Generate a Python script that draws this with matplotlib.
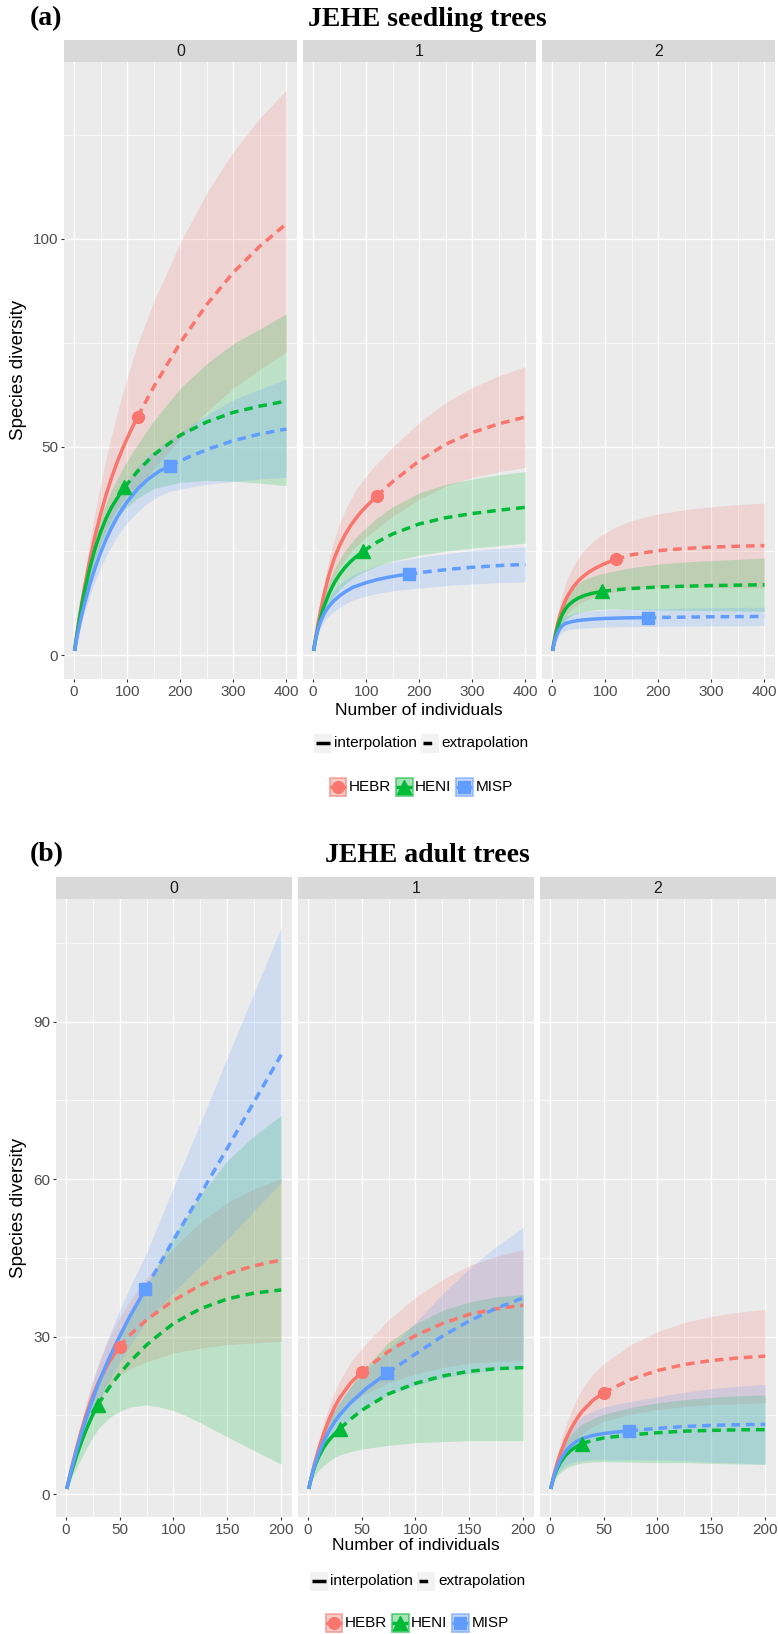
#!/usr/bin/env python3
"""Rarefaction / extrapolation curves for JEHE seedling and adult trees,
   faceted by diversity order (0, 1, 2)."""
import numpy as np
import matplotlib

matplotlib.use("Agg")
import matplotlib.pyplot as plt
from matplotlib.patches import Rectangle
from matplotlib.lines import Line2D
from matplotlib.ticker import MultipleLocator

plt.rcParams["font.family"] = ["Liberation Sans", "DejaVu Sans"]

W, H = 778, 1634

SPECIES = ["HEBR", "HENI", "MISP"]
COLORS = ["#F8766D", "#00BA38", "#619CFF"]
MARKERS = ["o", "^", "s"]
ORDERS = ["0", "1", "2"]
METHODS = ["interpolation", "extrapolation"]
TITLES = ["JEHE seedling trees", "JEHE adult trees"]
TAGS = ["(a)", "(b)"]
XLABEL = "Number of individuals"
YLABEL = "Species diversity"

# observed sample sizes (reference samples) for HEBR, HENI, MISP
A_NOBS = [120, 95, 180]
B_NOBS = [50, 30, 74]

# ---- (a) seedling trees, order 0
A0_HEBR_X = [1, 5, 10, 15, 20, 30, 40, 50, 60, 70, 80, 90, 100, 110, 120,
             150, 200, 250, 300, 350, 400]
A0_HEBR_Y = [1, 4.8, 9.05, 12.95, 16.55, 23.05, 28.85, 33.85, 38.35, 42.35,
             45.95, 49.15, 52.05, 54.75, 57.3, 64.4, 75, 84.2, 91.9, 98.2, 103.6]
A0_HEBR_LO = [1, 4.1, 7.6, 10.8, 13.7, 18.7, 23.3, 26.9, 30.1, 32.8, 34.9,
              36.7, 38.1, 39.4, 40.5, 44.7, 52, 58.5, 64.1, 68.6, 72.8]
A0_HEBR_HI = [1, 5.5, 10.6, 15.3, 19.6, 27.6, 34.7, 41.1, 47, 52.4, 57.5,
              62.2, 66.6, 70.8, 74.8, 84.9, 99, 111, 120.9, 129, 135.7]

A0_HENI_X = [1, 5, 10, 15, 20, 30, 40, 50, 60, 70, 80, 95,
             120, 150, 200, 250, 300, 350, 400]
A0_HENI_Y = [1, 4.6, 8.6, 12.2, 15.45, 21.05, 25.75, 29.55, 32.75, 35.35,
             37.45, 40.3, 44.2, 48.1, 52.8, 56, 58.3, 59.8, 61]
A0_HENI_LO = [1, 4.2, 7.8, 11.1, 14.05, 19.05, 22.95, 26.45, 29.15, 31.25,
              32.85, 35, 37.7, 40, 41.5, 42, 41.8, 41.3, 40.7]
A0_HENI_HI = [1, 5, 9.4, 13.3, 16.85, 23.05, 28.35, 32.65, 36.35, 39.45,
              42.05, 45.6, 50.7, 56.2, 64.1, 70, 74.8, 78.3, 82]

A0_MISP_X = [1, 5, 10, 15, 20, 30, 40, 50, 60, 70, 80, 90, 100, 120, 140,
             160, 180, 220, 260, 300, 350, 400]
A0_MISP_Y = [1, 3.88, 7.08, 9.93, 12.53, 17.13, 21.13, 24.63, 27.73, 30.43,
             32.83, 34.93, 36.83, 39.93, 42.33, 44.13, 45.43, 47.8, 49.8,
             51.5, 53.1, 54.3]
A0_MISP_LO = [1, 3.4, 6.1, 8.4, 10.5, 14.5, 17.9, 21, 23.7, 26.1, 28.3, 30.1,
              31.8, 34.5, 36.7, 38.2, 39.3, 40.4, 41.2, 41.7, 42.3, 42.7]
A0_MISP_HI = [1, 4.4, 8.1, 11.4, 14.5, 19.7, 24.3, 28.2, 31.7, 34.7, 37.3,
              39.7, 41.8, 45.3, 47.9, 50, 51.5, 55.2, 58.4, 61.3, 63.9, 66.3]

# ---- (a) order 1
A1_HEBR_X = [1, 3, 5, 8, 10, 15, 20, 30, 40, 50, 60, 70, 80, 90, 100, 120,
             150, 200, 250, 300, 350, 400]
A1_HEBR_Y = [1, 2.7, 4.3, 6.55, 7.95, 11.25, 14.25, 19.25, 23.25, 26.35,
             28.85, 30.95, 32.75, 34.3, 35.7, 38.2, 41.65, 46.65, 50.65,
             53.45, 55.55, 57.2]
A1_HEBR_LO = [1, 2.3, 3.5, 5.35, 6.45, 9.05, 11.45, 15.45, 18.65, 21.05,
              22.95, 24.65, 26.05, 27.3, 28.4, 30.4, 33.35, 37.45, 40.65,
              42.65, 44.05, 45.1]
A1_HEBR_HI = [1, 3.1, 5.1, 7.75, 9.45, 13.45, 17.05, 23.05, 27.85, 31.65,
              34.75, 37.25, 39.45, 41.3, 43, 46, 49.95, 55.85, 60.65, 64.25,
              67.05, 69.3]

A1_HENI_X = [1, 3, 5, 8, 10, 15, 20, 30, 40, 50, 60, 70, 80, 95,
             120, 150, 200, 250, 300, 350, 400]
A1_HENI_Y = [1, 2.5, 3.86, 5.72, 6.88, 9.38, 11.48, 14.78, 17.38, 19.38,
             21.03, 22.38, 23.53, 25, 27.1, 29.1, 31.5, 33, 34, 34.8, 35.5]
A1_HENI_LO = [1, 2.2, 3.26, 4.82, 5.88, 7.88, 9.48, 11.98, 14.18, 15.78,
              17.03, 18.08, 18.93, 20, 21.3, 22.6, 24, 25, 25.7, 26.3, 26.9]
A1_HENI_HI = [1, 2.8, 4.46, 6.62, 7.88, 10.88, 13.48, 17.58, 20.58, 22.98,
              25.03, 26.68, 28.13, 30, 32.9, 35.6, 39, 41, 42.3, 43.3, 44.1]

A1_MISP_X = [1, 2, 3, 5, 7, 10, 15, 20, 25, 30, 40, 50, 60, 75, 100, 120,
             140, 160, 180, 220, 260, 300, 350, 400]
A1_MISP_Y = [1, 1.8, 2.55, 3.91, 5.11, 6.55, 8.35, 9.75, 10.85, 11.75, 13.15,
             14.25, 15.15, 16.28, 17.4, 18.1, 18.66, 19.1, 19.46, 20.1, 20.65,
             21.1, 21.5, 21.8]
A1_MISP_LO = [1, 1.6, 2.2, 3.31, 4.26, 5.45, 6.85, 7.95, 8.75, 9.45, 10.55,
              11.45, 12.25, 13.28, 14.2, 14.8, 15.26, 15.6, 15.86, 16.35,
              16.8, 17.1, 17.4, 17.6]
A1_MISP_HI = [1, 2, 2.9, 4.51, 5.96, 7.65, 9.85, 11.55, 12.95, 14.05, 15.75,
              17.05, 18.05, 19.28, 20.6, 21.4, 22.06, 22.6, 23.06, 23.85,
              24.5, 25.1, 25.6, 26]

# ---- (a) order 2
A2_HEBR_X = [1, 2, 3, 5, 7, 10, 15, 20, 25, 30, 40, 50, 60, 70, 80, 90, 100,
             120, 150, 200, 250, 300, 350, 400]
A2_HEBR_Y = [1, 1.85, 2.65, 4.15, 5.55, 7.29, 9.64, 11.54, 13.09, 14.39,
             16.39, 17.89, 19.04, 19.99, 20.77, 21.43, 22.01, 23.01, 24.1,
             25.1, 25.6, 25.95, 26.15, 26.3]
A2_HEBR_LO = [1, 1.55, 2.05, 3.15, 4.15, 5.29, 6.84, 8.14, 9.19, 10.09,
              11.39, 12.29, 12.94, 13.49, 13.97, 14.33, 14.71, 15.21, 15.9,
              16.3, 16.3, 16.25, 16.15, 16.1]
A2_HEBR_HI = [1, 2.15, 3.25, 5.15, 6.95, 9.29, 12.44, 14.94, 16.99, 18.69,
              21.39, 23.49, 25.14, 26.49, 27.57, 28.53, 29.31, 30.81, 32.3,
              33.9, 34.9, 35.65, 36.15, 36.5]

A2_HENI_X = [1, 2, 3, 5, 7, 10, 15, 20, 25, 30, 40, 50, 60, 70, 80, 95,
             120, 150, 200, 250, 300, 350, 400]
A2_HENI_Y = [1, 1.8, 2.52, 3.82, 4.94, 6.44, 8.44, 9.94, 11.04, 11.89, 12.99,
             13.74, 14.26, 14.66, 14.96, 15.29, 15.7, 16, 16.35, 16.55, 16.7,
             16.8, 16.9]
A2_HENI_LO = [1, 1.6, 2.12, 3.12, 3.94, 5.04, 6.44, 7.44, 8.24, 8.89, 9.69,
              10.14, 10.46, 10.66, 10.86, 10.99, 11.1, 11, 10.85, 10.75, 10.7,
              10.6, 10.5]
A2_HENI_HI = [1, 2, 2.92, 4.52, 5.94, 7.84, 10.44, 12.44, 13.84, 14.89,
              16.29, 17.34, 18.06, 18.66, 19.06, 19.59, 20.3, 21, 21.85,
              22.35, 22.7, 23, 23.3]

A2_MISP_X = [1, 2, 3, 4, 6, 8, 10, 15, 20, 25, 30, 40, 50, 60, 80, 100, 140,
             180, 250, 300, 350, 400]
A2_MISP_Y = [1, 1.65, 2.25, 2.8, 3.76, 4.56, 5.22, 6.42, 7.17, 7.57, 7.82,
             8.12, 8.32, 8.47, 8.67, 8.81, 8.95, 9.01, 9.12, 9.2, 9.25, 9.3]
A2_MISP_LO = [1, 1.4, 1.8, 2.2, 2.96, 3.56, 4.02, 4.97, 5.57, 5.87, 6.07,
              6.27, 6.42, 6.47, 6.67, 6.76, 6.85, 6.91, 6.97, 7, 7.05, 7.1]
A2_MISP_HI = [1, 1.9, 2.7, 3.4, 4.56, 5.56, 6.42, 7.87, 8.77, 9.27, 9.57,
              9.97, 10.22, 10.47, 10.67, 10.86, 11.05, 11.11, 11.27, 11.4,
              11.45, 11.5]

# ---- (b) adult trees, order 0
B0_HEBR_X = [1, 5, 10, 15, 20, 25, 30, 40, 50,
             60, 75, 100, 125, 150, 175, 200]
B0_HEBR_Y = [1, 4.6, 8.7, 12.4, 15.7, 18.6, 21.1, 25.1, 28.1,
             30.4, 33.2, 36.9, 39.8, 42, 43.5, 44.6]
B0_HEBR_LO = [1, 4, 7.4, 10.5, 13.2, 15.6, 17.6, 20.6, 22.6,
              23.9, 25.2, 26.9, 27.8, 28.5, 28.8, 29.1]
B0_HEBR_HI = [1, 5.2, 10, 14.3, 18.2, 21.6, 24.6, 29.6, 33.6,
              36.9, 41.2, 46.9, 51.8, 55.5, 58.2, 60.1]

B0_HENI_X = [1, 5, 10, 15, 20, 25, 30,
             40, 50, 60, 75, 85, 100, 110, 125, 150, 175, 200]
B0_HENI_Y = [1, 4, 7.25, 10.15, 12.75, 15.05, 17.05,
             20.2, 22.9, 25.3, 28.4, 30.1, 32.5, 33.65, 35.3, 37.2, 38.3, 38.9]
B0_HENI_LO = [1, 3, 5, 7, 9, 10.8, 12.4,
              14.5, 15.8, 16.6, 17, 16.7, 15.9, 15.1, 13.6, 10.9, 8.3, 5.7]
B0_HENI_HI = [1, 5, 9.5, 13.3, 16.5, 19.3, 21.7,
              25.9, 30, 34, 39.8, 43.5, 49.1, 52.2, 57, 63.5, 68.3, 72.1]

B0_MISP_X = [1, 5, 10, 15, 20, 25, 32, 40, 50, 60, 74,
             100, 125, 150, 175, 200]
B0_MISP_Y = [1, 4.4, 8.3, 11.8, 15.05, 18.05, 21.9, 25.74, 30.04, 34.04,
             39.08, 48.4, 57.1, 65.9, 74.8, 83.7]
B0_MISP_LO = [1, 3.8, 6.8, 9.8, 12.55, 14.95, 18.1, 21.44, 25.04, 28.44,
              32.68, 38.4, 43.5, 48.6, 54, 59.4]
B0_MISP_HI = [1, 5, 9.8, 13.8, 17.55, 21.15, 25.7, 30.04, 35.04, 39.64,
              45.48, 58.4, 70.7, 83.2, 95.6, 108]

# ---- (b) order 1
B1_HEBR_X = [1, 3, 5, 7, 10, 15, 20, 25, 30, 40, 50,
             75, 100, 125, 150, 175, 200]
B1_HEBR_Y = [1, 2.9, 4.66, 6.26, 8.42, 11.62, 14.32, 16.57, 18.42, 21.22,
             23.22, 27.2, 30.2, 32.5, 34.25, 35.3, 36]
B1_HEBR_LO = [1, 2.6, 3.96, 5.26, 6.92, 9.52, 11.82, 13.67, 15.12, 17.22,
              18.72, 21.2, 22.9, 24.1, 24.95, 25.3, 25.4]
B1_HEBR_HI = [1, 3.2, 5.36, 7.26, 9.92, 13.72, 16.82, 19.47, 21.72, 25.22,
              27.72, 33.2, 37.5, 40.9, 43.55, 45.3, 46.6]

B1_HENI_X = [1, 3, 5, 7, 10, 15, 20, 25, 30,
             40, 50, 75, 100, 125, 150, 175, 200]
B1_HENI_Y = [1, 2.8, 4.3, 5.54, 7.04, 8.94, 10.34, 11.49, 12.49,
             14.3, 15.95, 19.1, 21.1, 22.5, 23.4, 23.9, 24.1]
B1_HENI_LO = [1, 2.2, 3, 3.6, 4.5, 5.5, 6.3, 7, 7.5,
              8.1, 8.6, 9.3, 9.8, 10, 10.2, 10.2, 10.2]
B1_HENI_HI = [1, 3.4, 5.6, 7.48, 9.58, 12.38, 14.38, 15.98, 17.48,
              20.5, 23.3, 28.9, 32.4, 35, 36.6, 37.6, 38]

B1_MISP_X = [1, 3, 5, 7, 10, 15, 20, 25, 30, 40, 55, 74,
             100, 125, 150, 175, 200]
B1_MISP_Y = [1, 2.8, 4.4, 5.8, 7.6, 10.1, 12.1, 13.75, 15.15, 17.45, 20.23,
             23.08, 26.7, 30.1, 33, 35.4, 37.4]
B1_MISP_LO = [1, 2.5, 3.8, 4.95, 6.4, 8.5, 10.1, 11.45, 12.55, 14.45, 16.73,
              18.88, 20.7, 22.1, 23, 23.6, 24]
B1_MISP_HI = [1, 3.1, 5, 6.65, 8.8, 11.7, 14.1, 16.05, 17.75, 20.45, 23.73,
              27.28, 32.7, 38.1, 43, 47.2, 50.8]

# ---- (b) order 2
B2_HEBR_X = [1, 2, 3, 5, 7, 10, 15, 20, 25, 30, 40, 50,
             75, 100, 125, 150, 175, 200]
B2_HEBR_Y = [1, 1.95, 2.85, 4.49, 5.93, 7.79, 10.39, 12.54, 14.29, 15.74,
             17.84, 19.34, 21.84, 23.54, 24.7, 25.45, 25.95, 26.3]
B2_HEBR_LO = [1, 1.65, 2.25, 3.39, 4.43, 5.79, 7.69, 9.24, 10.49, 11.44,
              12.84, 13.84, 15.24, 16.14, 16.7, 17.05, 17.25, 17.4]
B2_HEBR_HI = [1, 2.25, 3.45, 5.59, 7.43, 9.79, 13.09, 15.84, 18.09, 20.04,
              22.84, 24.84, 28.44, 30.94, 32.7, 33.85, 34.65, 35.2]

B2_HENI_X = [1, 2, 3, 5, 7, 10, 15, 20, 25, 30,
             40, 50, 75, 100, 125, 150, 175, 200]
B2_HENI_Y = [1, 1.85, 2.6, 3.84, 4.84, 6.04, 7.44, 8.39, 9.09, 9.64,
             10.25, 10.7, 11.3, 11.7, 12, 12.15, 12.25, 12.3]
B2_HENI_LO = [1, 1.6, 2.1, 2.94, 3.54, 4.04, 4.94, 5.39, 5.69, 5.94,
              6.15, 6.2, 6.1, 6, 6, 5.85, 5.75, 5.7]
B2_HENI_HI = [1, 2.1, 3.1, 4.74, 6.14, 8.04, 9.94, 11.39, 12.49, 13.34,
              14.35, 15.2, 16.5, 17.4, 18, 18.45, 18.75, 18.9]

B2_MISP_X = [1, 2, 3, 5, 7, 10, 15, 20, 25, 30, 40, 50, 60, 74,
             100, 125, 150, 175, 200]
B2_MISP_Y = [1, 1.88, 2.68, 4.08, 5.24, 6.59, 8.19, 9.29, 10.04, 10.59,
             11.19, 11.54, 11.79, 12.07, 12.54, 12.89, 13.1, 13.22, 13.3]
B2_MISP_LO = [1, 1.58, 2.08, 3.08, 3.84, 4.59, 5.49, 5.99, 6.24, 6.39, 6.59,
              6.54, 6.49, 6.57, 6.54, 6.39, 6.1, 5.92, 5.7]
B2_MISP_HI = [1, 2.18, 3.28, 5.08, 6.64, 8.59, 10.89, 12.59, 13.84, 14.79,
              15.79, 16.54, 17.09, 17.57, 18.54, 19.39, 20.1, 20.52, 20.9]


PANELS_A = [
    [(A0_HEBR_X, A0_HEBR_Y, A0_HEBR_LO, A0_HEBR_HI),
     (A0_HENI_X, A0_HENI_Y, A0_HENI_LO, A0_HENI_HI),
     (A0_MISP_X, A0_MISP_Y, A0_MISP_LO, A0_MISP_HI)],
    [(A1_HEBR_X, A1_HEBR_Y, A1_HEBR_LO, A1_HEBR_HI),
     (A1_HENI_X, A1_HENI_Y, A1_HENI_LO, A1_HENI_HI),
     (A1_MISP_X, A1_MISP_Y, A1_MISP_LO, A1_MISP_HI)],
    [(A2_HEBR_X, A2_HEBR_Y, A2_HEBR_LO, A2_HEBR_HI),
     (A2_HENI_X, A2_HENI_Y, A2_HENI_LO, A2_HENI_HI),
     (A2_MISP_X, A2_MISP_Y, A2_MISP_LO, A2_MISP_HI)],
]
PANELS_B = [
    [(B0_HEBR_X, B0_HEBR_Y, B0_HEBR_LO, B0_HEBR_HI),
     (B0_HENI_X, B0_HENI_Y, B0_HENI_LO, B0_HENI_HI),
     (B0_MISP_X, B0_MISP_Y, B0_MISP_LO, B0_MISP_HI)],
    [(B1_HEBR_X, B1_HEBR_Y, B1_HEBR_LO, B1_HEBR_HI),
     (B1_HENI_X, B1_HENI_Y, B1_HENI_LO, B1_HENI_HI),
     (B1_MISP_X, B1_MISP_Y, B1_MISP_LO, B1_MISP_HI)],
    [(B2_HEBR_X, B2_HEBR_Y, B2_HEBR_LO, B2_HEBR_HI),
     (B2_HENI_X, B2_HENI_Y, B2_HENI_LO, B2_HENI_HI),
     (B2_MISP_X, B2_MISP_Y, B2_MISP_LO, B2_MISP_HI)],
]

LW = 2.5
DASH = (2.5, 1.7)
MS = {"o": 8.5, "^": 9.5, "s": 8.5}
TICK_COLOR = "#4D4D4D"


def px_box(x0, y0, x1, y1):
    return [x0 / W, 1 - y1 / H, (x1 - x0) / W, (y1 - y0) / H]


def expand(lo, hi, frac=0.05):
    d = (hi - lo) * frac
    return lo - d, hi + d


def draw_row(fig, panels, nobs, lefts, width, strip_top, top, bottom,
             xmaj, xmin_, ymaj, ymin_):
    xs = np.concatenate([np.asarray(s[0], float) for p in panels for s in p])
    los = np.concatenate([np.asarray(s[2], float) for p in panels for s in p])
    his = np.concatenate([np.asarray(s[3], float) for p in panels for s in p])
    xlim = expand(xs.min(), xs.max())
    ylim = expand(min(los.min(), 1), his.max())

    for k, (series, left) in enumerate(zip(panels, lefts)):
        ax = fig.add_axes(px_box(left, top, left + width, bottom))
        ax.set_facecolor("#EBEBEB")
        for sp in ax.spines.values():
            sp.set_visible(False)
        ax.set_axisbelow(True)
        ax.xaxis.set_major_locator(MultipleLocator(xmaj))
        ax.xaxis.set_minor_locator(MultipleLocator(xmin_))
        ax.yaxis.set_major_locator(MultipleLocator(ymaj))
        ax.yaxis.set_minor_locator(MultipleLocator(ymin_))
        ax.grid(which="major", color="white", lw=1.0)
        ax.grid(which="minor", color="white", lw=0.5)
        ax.tick_params(which="major", length=2.2, width=0.8, color="#333333",
                       labelsize=11, labelcolor=TICK_COLOR, pad=2)
        ax.tick_params(which="minor", length=0)
        if k > 0:
            ax.tick_params(axis="y", labelleft=False, length=0)

        for (x, y, lo, hi), c in zip(series, COLORS):
            ax.fill_between(x, lo, hi, color=c, alpha=0.2, lw=0)
        for (x, y, lo, hi), c, n in zip(series, COLORS, nobs):
            x = np.asarray(x, float)
            y = np.asarray(y, float)
            inter = x <= n
            extra = x >= n
            ax.plot(x[inter], y[inter], color=c, lw=LW,
                    solid_capstyle="butt", solid_joinstyle="round")
            ax.plot(x[extra], y[extra], color=c, lw=LW, dashes=DASH,
                    dash_capstyle="butt")
        for (x, y, lo, hi), c, m, n in zip(series, COLORS, MARKERS, nobs):
            x = np.asarray(x, float)
            y = np.asarray(y, float)
            obs = x == n
            ax.plot(x[obs], y[obs], ls="none", marker=m, ms=MS[m],
                    color=c, mec=c, zorder=5)

        ax.set_xlim(*xlim)
        ax.set_ylim(*ylim)

        sax = fig.add_axes(px_box(left, strip_top, left + width, top))
        sax.set_facecolor("#D9D9D9")
        sax.set_xticks([])
        sax.set_yticks([])
        for sp in sax.spines.values():
            sp.set_visible(False)
        sax.text(0.5, 0.5, ORDERS[k], ha="center", va="center",
                 fontsize=11.5, color="#1A1A1A", transform=sax.transAxes)


def draw_legends(ov, y1, s1, y2, s2):
    # line-type legend
    offs = [(0, 20), (107.5, 128)]
    for (ko, to), name, solid in zip(offs, METHODS, [True, False]):
        kx = s1 + ko
        ov.add_patch(Rectangle((kx, y1 - 9.5), 18, 19, facecolor="#F2F2F2",
                               edgecolor="none"))
        ln = Line2D([kx + 2, kx + 16], [y1, y1], color="black", lw=LW,
                    solid_capstyle="butt", dash_capstyle="butt")
        if not solid:
            ln.set_dashes(DASH)
        ov.add_line(ln)
        ov.text(s1 + to, y1, name, ha="left", va="center", fontsize=11)

    # species legend
    offs = [(0, 20), (66.5, 86), (126.5, 147)]
    for (ko, to), name, c, m in zip(offs, SPECIES, COLORS, MARKERS):
        kx = s2 + ko
        ov.add_patch(Rectangle((kx, y2 - 9.5), 18, 19, facecolor="#F2F2F2",
                               edgecolor="none"))
        ov.add_patch(Rectangle((kx + 0.8, y2 - 8.7), 16.4, 17.4,
                               facecolor=c, alpha=0.3, edgecolor="none"))
        ov.add_patch(Rectangle((kx + 0.8, y2 - 8.7), 16.4, 17.4,
                               facecolor="none", edgecolor=c, alpha=0.6,
                               lw=1.2))
        ov.add_line(Line2D([kx + 1, kx + 17], [y2, y2], color=c, lw=LW,
                           solid_capstyle="butt"))
        ov.add_line(Line2D([kx + 9], [y2], ls="none", marker=m, ms=MS[m],
                           color=c))
        ov.text(s2 + to, y2, name, ha="left", va="center", fontsize=11)


def main():
    fig = plt.figure(figsize=(W / 100, H / 100), dpi=100, facecolor="white")

    # (a) seedling trees
    draw_row(fig, PANELS_A, A_NOBS, [64, 303, 542], 233, 40, 62, 679,
             100, 50, 50, 25)
    # (b) adult trees
    draw_row(fig, PANELS_B, B_NOBS, [56, 298, 540], 236, 877, 899, 1517,
             50, 25, 30, 15)

    ov = fig.add_axes([0, 0, 1, 1], zorder=10)
    ov.set_xlim(0, W)
    ov.set_ylim(H, 0)
    ov.axis("off")
    ov.patch.set_visible(False)

    serif = ["Liberation Serif", "DejaVu Serif"]
    for tag, title, ty in zip(TAGS, TITLES, [19, 855]):
        ov.text(30, ty, tag, ha="left", va="center", fontsize=20,
                fontweight="bold", family=serif)
        ov.text(427, ty, title, ha="center", va="center", fontsize=20,
                fontweight="bold", family=serif)

    ov.text(419, 710, XLABEL, ha="center", va="center", fontsize=12.5)
    ov.text(416, 1546, XLABEL, ha="center", va="center", fontsize=12.5)
    ov.text(19, 370, YLABEL, ha="center", va="center", fontsize=13.5,
            rotation=90)
    ov.text(19, 1208, YLABEL, ha="center", va="center", fontsize=13.5,
            rotation=90)

    draw_legends(ov, 743, 313.6, 787, 329)
    draw_legends(ov, 1581, 310, 1623, 325)

    fig.savefig("out.png", dpi=100, facecolor="white")


if __name__ == "__main__":
    main()
